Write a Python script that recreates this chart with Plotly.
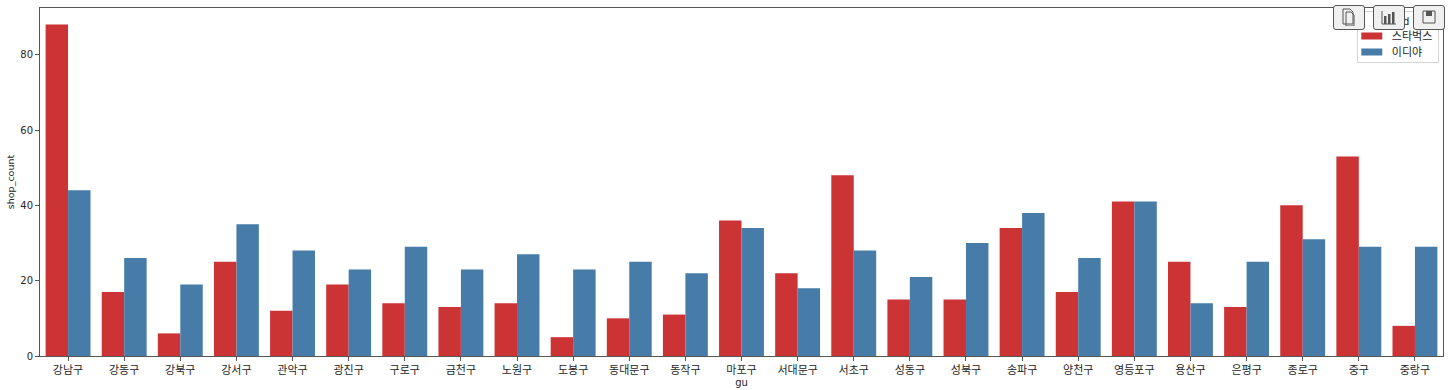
import plotly.graph_objects as go

gu = ["강남구","강동구","강북구","강서구","관악구","광진구","구로구","금천구","노원구","도봉구",
      "동대문구","동작구","마포구","서대문구","서초구","성동구","성북구","송파구","양천구","영등포구",
      "용산구","은평구","종로구","중구","중랑구"]
starbucks = [88,17,6,25,12,19,14,13,14,5,10,11,36,22,48,15,15,34,17,41,25,13,40,53,8]
ediya = [44,26,19,35,28,23,29,23,27,23,25,22,34,18,28,21,30,38,26,41,14,25,31,29,29]
FONT = "DejaVu Sans, Noto Sans CJK KR, sans-serif"
TXT = "#262626"
AX = "#555555"

fig = go.Figure()
fig.add_bar(x=gu, y=starbucks, name="스타벅스", marker=dict(color="#CB3335", line_width=0))
fig.add_bar(x=gu, y=ediya, name="이디야", marker=dict(color="#477CA8", line_width=0))
axis = dict(showgrid=False, zeroline=False, showline=True, linecolor=AX, linewidth=1, mirror=True,
            ticks="outside", ticklen=4, tickcolor=AX, tickwidth=1, automargin=False)
fig.update_layout(
    width=1450, height=390, autosize=False,
    margin=dict(l=39.5, r=6.5, t=8, b=34),
    paper_bgcolor="white", plot_bgcolor="white",
    barmode="group", bargap=0.2, bargroupgap=0,
    font=dict(family=FONT, size=10, color=TXT),
    xaxis=dict(axis, tickfont=dict(size=11, color=TXT, family=FONT),
               title=dict(text="gu", standoff=2, font=dict(size=10, color=TXT))),
    yaxis=dict(axis, tickfont=dict(size=10, color=TXT, family=FONT),
               title=dict(text="shop_count", standoff=3, font=dict(size=9.5, color=TXT)),
               range=[0, 92.4], tick0=0, dtick=20),
    legend=dict(x=0.997, xanchor="right", y=0.99, yanchor="top",
                bgcolor="rgba(255,255,255,0.8)", bordercolor="#d5d5d5", borderwidth=1,
                font=dict(size=11, color=TXT), traceorder="normal",
                title=dict(text="brand", side="top center", font=dict(size=10, color=TXT)),
                itemwidth=30, tracegroupgap=0),
)

post = r"""
document.body.style.margin='0';document.body.style.overflow='hidden';
document.querySelectorAll('.legend .legendpoints path').forEach(function(p){
  var t=p.getAttribute('transform')||'';
  p.setAttribute('transform',t+' scale(1.75,0.6)');
});
document.querySelectorAll('.legend .traces').forEach(function(g,i){
  var m=/translate\(([-\d.]+),\s*([-\d.]+)\)/.exec(g.getAttribute('transform'));
  if(m) g.setAttribute('transform','translate('+m[1]+','+(parseFloat(m[2])-4-3*i)+')');
});
var bg=document.querySelector('.legend .bg');
if(bg){
  bg.setAttribute('x',parseFloat(bg.getAttribute('x')||0)+6);
  bg.setAttribute('width',parseFloat(bg.getAttribute('width'))-6);
  bg.setAttribute('height',parseFloat(bg.getAttribute('height'))-11);
}
var icons=[
 '<path d="M3 1h7l3 3v12H3z M6 4h5l3 3v11H6z" fill="none" stroke="#555" stroke-width="1"/>',
 '<path d="M2 16h14 M2 3v13" stroke="#555" fill="none"/><rect x="4" y="8" width="2.5" height="8" fill="#555"/><rect x="8" y="6" width="2.5" height="10" fill="#555"/><rect x="12" y="4" width="2.5" height="12" fill="#555"/>',
 '<path d="M3 3h12v12H3z" fill="none" stroke="#555"/><rect x="6" y="3" width="6" height="5" fill="#555"/>'];
[1333,1373,1413].forEach(function(x,i){
 var d=document.createElement('div');
 d.style.cssText='position:absolute;top:5px;left:'+x+'px;width:30px;height:23px;background:#f0f0f0;border:1px solid #555;border-radius:3px;z-index:2000;';
 d.innerHTML='<svg width="18" height="18" style="position:absolute;left:6px;top:2px">'+icons[i]+'</svg>';
 document.body.appendChild(d);
});
"""
fig.write_html("out.html", post_script=post, config={"displayModeBar": False})
